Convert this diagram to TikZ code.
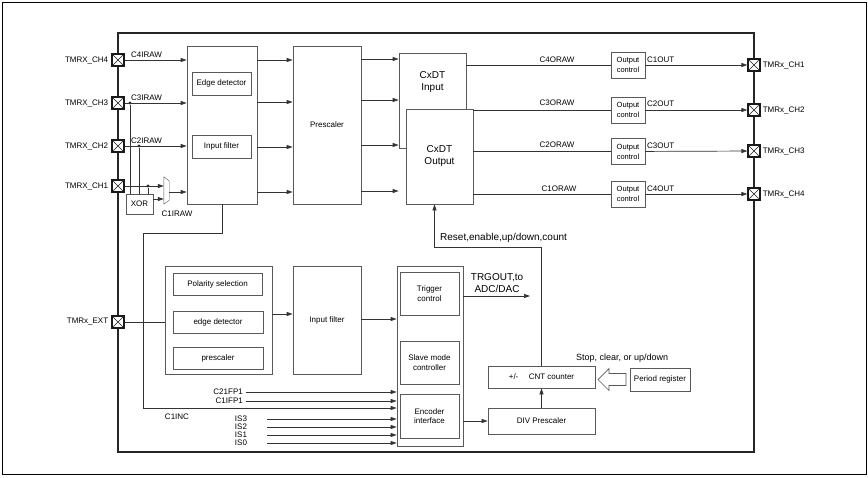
\documentclass[tikz,border=0pt]{standalone}
\usepackage{fontspec}
\setmainfont{Liberation Sans}
\usetikzlibrary{arrows.meta}

\begin{document}
\begin{tikzpicture}[x=1pt,y=-1pt,font=\fontsize{8}{9.5}\selectfont,
  blk/.style={draw=black!65,line width=0.7pt,fill=white,inner sep=0pt,align=center},
  pin/.style={draw=black!90,line width=1.2pt,fill=white,minimum size=12pt,inner sep=0pt,
    path picture={\draw[line width=0.6pt] (path picture bounding box.south west) -- (path picture bounding box.north east)
      (path picture bounding box.north west) -- (path picture bounding box.south east);}},
  wire/.style={draw=black!80,line width=0.7pt},
  arr/.style={wire,-{Triangle[length=6pt,width=4pt]}},
  lbl/.style={inner sep=0pt},
  dot/.style={circle,fill=black!85,inner sep=0pt,minimum size=3.2pt},
  big/.style={font=\fontsize{10}{12}\selectfont}]
\useasboundingbox (0,0) rectangle (868,477);
\draw[line width=0.8pt] (2,2) rectangle (866,474);
\draw[line width=1.2pt,black!85] (118,33) rectangle (754,452);

% pins
\node[pin,label={[lbl,label distance=3pt]left:TMRX\_CH4}] (pin4) at (118,60) {};
\node[pin,label={[lbl,label distance=3pt]left:TMRX\_CH3}] (pin3) at (118,103) {};
\node[pin,label={[lbl,label distance=3pt]left:TMRX\_CH2}] (pin2) at (118,146) {};
\node[pin,label={[lbl,label distance=3pt]left:TMRX\_CH1}] (pin1) at (118,186) {};
\node[pin,label={[lbl,label distance=3pt]left:TMRx\_EXT}] (pinext) at (118,322) {};
\node[pin,label={[lbl,label distance=2pt]right:TMRx\_CH1}] (out1) at (754,65) {};
\node[pin,label={[lbl,label distance=2pt]right:TMRx\_CH2}] (out2) at (754,110) {};
\node[pin,label={[lbl,label distance=2pt]right:TMRx\_CH3}] (out3) at (754,151) {};
\node[pin,label={[lbl,label distance=2pt]right:TMRx\_CH4}] (out4) at (754,194) {};

% input stage
\node[blk,minimum width=70pt,minimum height=158pt] (inbox) at (222,125) {};
\node[blk,minimum width=59pt,minimum height=23pt] (edge) at (221.5,83.5) {Edge detector};
\node[blk,minimum width=59pt,minimum height=23pt] (infilt) at (221.5,146.5) {Input filter};
\node[blk,minimum width=27pt,minimum height=20pt] (xor) at (139.5,204) {XOR};
\node[minimum width=5pt,minimum height=27pt,inner sep=0pt] (mux) at (166.5,190.5) {};
\draw[draw=black!65] (mux.north west) -- ([yshift=-4pt]mux.north east) -- ([yshift=4pt]mux.south east) -- (mux.south west) -- cycle;

\node[dot] (d3) at (130,103) {};
\node[dot] (d2) at (139,146) {};
\node[dot] (d1) at (148,186) {};
\draw[arr] (pin4) -- (inbox.west |- pin4);
\draw[arr] (pin3) -- (inbox.west |- pin3);
\draw[arr] (pin2) -- (inbox.west |- pin2);
\draw[arr] (pin1) -- (mux.west |- pin1);
\draw[wire] (d3) -- (d3 |- xor.north);
\draw[wire] (d2) -- (d2 |- xor.north);
\draw[wire] (d1) -- (d1 |- xor.north);
\draw[arr] (xor.east |- 0,199) -- (mux.west |- 0,199);
\draw[arr] (mux.east |- 0,192) -- (inbox.west |- 0,192);
\node[lbl,anchor=west] (c4i) at (131,55) {C4IRAW};
\node[lbl,anchor=west] (c3i) at (131,98) {C3IRAW};
\node[lbl,anchor=west] (c2i) at (131,141) {C2IRAW};
\node[lbl] (c1i) at (177,214) {C1IRAW};

% prescaler and CxDT
\node[blk,minimum width=68pt,minimum height=158pt] (presc) at (327,125) {Prescaler};
\draw[arr] (inbox.east |- 0,60) -- (presc.west |- 0,60);
\draw[arr] (inbox.east |- 0,102) -- (presc.west |- 0,102);
\draw[arr] (inbox.east |- 0,147) -- (presc.west |- 0,147);
\draw[arr] (inbox.east |- 0,192) -- (presc.west |- 0,192);
\node[blk,minimum width=67pt,minimum height=95pt] (dtin) at (432.5,100.5) {};
\node[big,align=center,inner sep=0pt] (dtinlbl) at (432.5,82) {CxDT\\Input};
\node[blk,big,minimum width=67pt,minimum height=95pt] (dtout) at (439.5,156.5) {CxDT\\Output};
\draw[arr] (presc.east |- 0,59) -- (dtin.west |- 0,59);
\draw[arr] (presc.east |- 0,100) -- (dtin.west |- 0,100);
\draw[arr] (presc.east |- 0,145) -- (dtin.west |- 0,145);
\draw[arr] (presc.east |- 0,191) -- ([xshift=-7pt]dtout.west |- 0,191);

% output control
\node[blk,minimum width=34pt,minimum height=26pt,font=\fontsize{7.5}{10}\selectfont] (oc1) at (628,65) {Output\\control};
\node[blk,minimum width=34pt,minimum height=26pt,font=\fontsize{7.5}{10}\selectfont] (oc2) at (628,110) {Output\\control};
\node[blk,minimum width=34pt,minimum height=26pt,font=\fontsize{7.5}{10}\selectfont] (oc3) at (628,151.5) {Output\\control};
\node[blk,minimum width=34pt,minimum height=26pt,font=\fontsize{7.5}{10}\selectfont] (oc4) at (628,194) {Output\\control};
\draw[wire] (dtin.east |- oc1) -- (oc1.west);
\draw[wire] (dtout.east |- oc2) -- (oc2.west);
\draw[wire] (dtout.east |- oc3) -- (oc3.west);
\draw[wire] (dtout.east |- oc4) -- (oc4.west);
\draw[arr] (oc1) -- (out1);
\draw[arr] (oc2) -- (out2);
\draw[arr] (oc3) -- (out3);
\draw[arr] (oc4) -- (out4);
\node[lbl] (c4o) at (557,60) {C4ORAW};
\node[lbl] (c3o) at (557,103) {C3ORAW};
\node[lbl] (c2o) at (557,145) {C2ORAW};
\node[lbl] (c1o) at (559,189) {C1ORAW};
\node[lbl,anchor=west] (c1out) at (647,60) {C1OUT};
\node[lbl,anchor=west] (c2out) at (647,104) {C2OUT};
\node[lbl,anchor=west] (c3out) at (647,146) {C3OUT};
\node[lbl,anchor=west] (c4out) at (647,189) {C4OUT};

% external trigger path
\node[blk,minimum width=107pt,minimum height=108pt] (extbox) at (218.5,320) {};
\node[blk,minimum width=89pt,minimum height=22pt] (polar) at (217.5,284) {Polarity selection};
\node[blk,minimum width=90pt,minimum height=22pt] (extedge) at (218,322) {edge detector};
\node[blk,minimum width=90pt,minimum height=22pt] (extpsc) at (218,358) {prescaler};
\node[blk,minimum width=68pt,minimum height=108pt] (extfilt) at (327,320) {Input filter};
\node[blk,minimum width=66pt,minimum height=180pt] (col) at (430,356) {};
\node[blk,minimum width=59pt,minimum height=43pt] (trig) at (429.5,293.5) {Trigger\\control};
\node[blk,minimum width=59pt,minimum height=43pt] (slave) at (429.5,362.5) {Slave mode\\controller};
\node[blk,minimum width=59pt,minimum height=44pt] (enc) at (429.5,416) {Encoder\\interface};
\draw[wire] (pinext) -- (extbox.west |- pinext);
\draw[arr] (extbox.east |- 0,314) -- (extfilt.west |- 0,314);
\draw[arr] (extfilt.east |- 0,319) -- (col.west |- 0,319);
\draw[arr] (inbox.south) -- ++(0,29) -| (143,408) -- (col.west |- 0,408);
\node[lbl] (c1inc) at (177,417) {C1INC};
\node[lbl,anchor=east] (c21) at (243,392) {C21FP1};
\node[lbl,anchor=east] (c1f) at (243,401) {C1IFP1};
\draw[arr] ([xshift=3pt]c21.east) -- (col.west |- c21.east);
\draw[arr] ([xshift=3pt]c1f.east) -- (col.west |- c1f.east);
\node[lbl] (is3) at (241,419) {IS3};
\node[lbl] (is2) at (241,427) {IS2};
\node[lbl] (is1) at (241,435) {IS1};
\node[lbl] (is0) at (241,443) {IS0};
\draw[arr] ([xshift=20pt]is3.east) -- (col.west |- is3);
\draw[arr] ([xshift=20pt]is2.east) -- (col.west |- is2);
\draw[arr] ([xshift=20pt]is1.east) -- (col.west |- is1);
\draw[arr] ([xshift=20pt]is0.east) -- (col.west |- is0);

% counter
\coordinate (trgend) at (530,296);
\draw[arr] (col.east |- trgend) -- (trgend);
\node[big,align=center,inner sep=0pt] (trglbl) at (497,283) {TRGOUT,to\\ADC/DAC};
\node[blk,minimum width=107pt,minimum height=26pt] (div) at (541.5,421) {DIV Prescaler};
\node[blk,minimum width=107pt,minimum height=22pt] (cnt) at (541.5,377) {+/-\hspace{1.3em}CNT counter};
\node[blk,minimum width=60pt,minimum height=23pt] (period) at (660,379.5) {Period register};
\coordinate (tip) at (598,379.5);
\draw[draw=black!65,line width=0.7pt,fill=white] (tip) -- ++(11,-11) -- ++(0,5) -- ++(17,0) -- ++(0,12) -- ++(-17,0) -- ++(0,5) -- cycle;
\draw[arr] (col.east |- div) -- (div.west);
\draw[arr] (div.north) -- (cnt.south);
\draw[arr] (cnt.north) -- (cnt.north |- 0,247) -| ([xshift=-5pt]dtout.south);
\node[big,lbl,anchor=west] (rst) at (440,238) {Reset,enable,up/down,count};
\node[lbl,anchor=west,font=\fontsize{9}{11}\selectfont] (stop) at (576,358) {Stop, clear, or up/down};
\end{tikzpicture}
\end{document}
